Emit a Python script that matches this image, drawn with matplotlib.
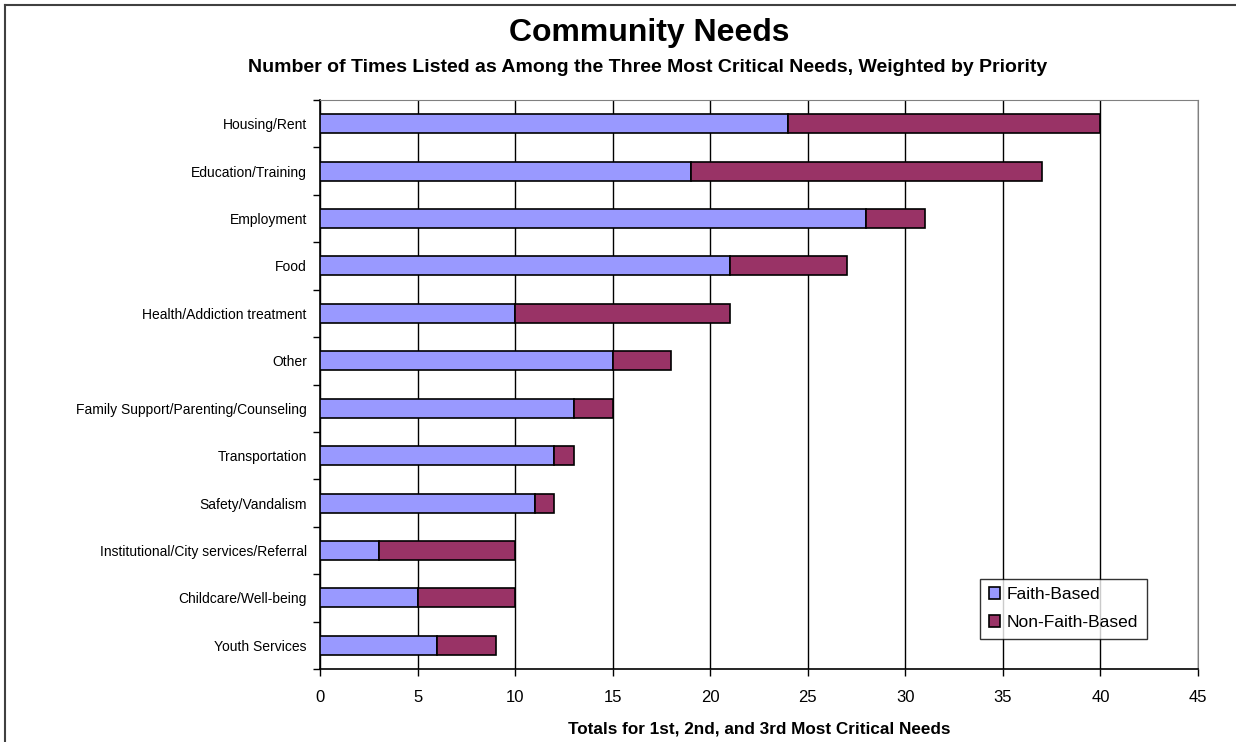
import matplotlib
matplotlib.use("Agg")
import matplotlib.pyplot as plt
from matplotlib.lines import Line2D
import numpy as np

plt.rcParams['font.family'] = ['Liberation Sans', 'DejaVu Sans']

categories = ["Housing/Rent", "Education/Training", "Employment", "Food",
              "Health/Addiction treatment", "Other",
              "Family Support/Parenting/Counseling", "Transportation",
              "Safety/Vandalism", "Institutional/City services/Referral",
              "Childcare/Well-being", "Youth Services"]
faith_based = [24, 19, 28, 21, 10, 15, 13, 12, 11, 3, 5, 6]
non_faith_based = [16, 18, 3, 6, 11, 3, 2, 1, 1, 7, 5, 3]
x_ticks = [0, 5, 10, 15, 20, 25, 30, 35, 40, 45]

W, H = 1236, 742
fig = plt.figure(figsize=(W/100, H/100), dpi=100)
ax = fig.add_axes([320/W, 1-669/H, (1198-320)/W, (669-100)/H])

y = np.arange(len(categories))
ax.barh(y, faith_based, height=0.4, color="#9999FF", edgecolor="black",
        linewidth=1.2, label="Faith-Based", zorder=3)
ax.barh(y, non_faith_based, left=faith_based, height=0.4, color="#993366",
        edgecolor="black", linewidth=1.2, label="Non-Faith-Based", zorder=3)

ax.set_ylim(len(categories)-0.5, -0.5)
ax.set_xlim(0, 45)
ax.set_xticks(x_ticks)
ax.set_xticklabels([str(v) for v in x_ticks], fontsize=12)
ax.set_yticks(y)
ax.set_yticklabels(categories, fontsize=10)
ax.set_yticks(np.arange(len(categories)+1)-0.5, minor=True)
ax.tick_params(axis='y', which='major', length=0, pad=9.5)
ax.tick_params(axis='y', which='minor', length=5, direction='out', width=1)
ax.tick_params(axis='x', length=5, direction='out', width=1, pad=10)

ax.xaxis.grid(True, color="black", linewidth=1, zorder=0)
ax.set_axisbelow(True)
for s in ['top', 'right']:
    ax.spines[s].set_color('#808080')
for s in ['left', 'bottom']:
    ax.spines[s].set_color('black')
    ax.spines[s].set_linewidth(1.2)

ax.set_xlabel("Totals for 1st, 2nd, and 3rd Most Critical Needs",
              fontsize=12.3, fontweight='bold', labelpad=12)

fig.text(649/W, 1-33/H, "Community Needs", ha='center', va='center',
         fontsize=23, fontweight='bold')
fig.text(647.5/W, 1-67/H,
         "Number of Times Listed as Among the Three Most Critical Needs, Weighted by Priority",
         ha='center', va='center', fontsize=14, fontweight='bold')

leg = ax.legend(loc='lower right', bbox_to_anchor=(1147/W, 1-639/H),
                bbox_transform=fig.transFigure, fontsize=12.5, frameon=True,
                fancybox=False, edgecolor='black', handlelength=0.65,
                handleheight=0.65, handletextpad=0.4, labelspacing=0.75,
                borderpad=0.5, borderaxespad=0)
leg.get_frame().set_linewidth(1)

fig.add_artist(Line2D([5/W, 5/W], [0, 1-5/H], color='#404040',
                      linewidth=1.5, transform=fig.transFigure))
fig.add_artist(Line2D([5/W, 1], [1-5/H, 1-5/H], color='#404040',
                      linewidth=1.5, transform=fig.transFigure))

fig.savefig("out.png", dpi=100)
